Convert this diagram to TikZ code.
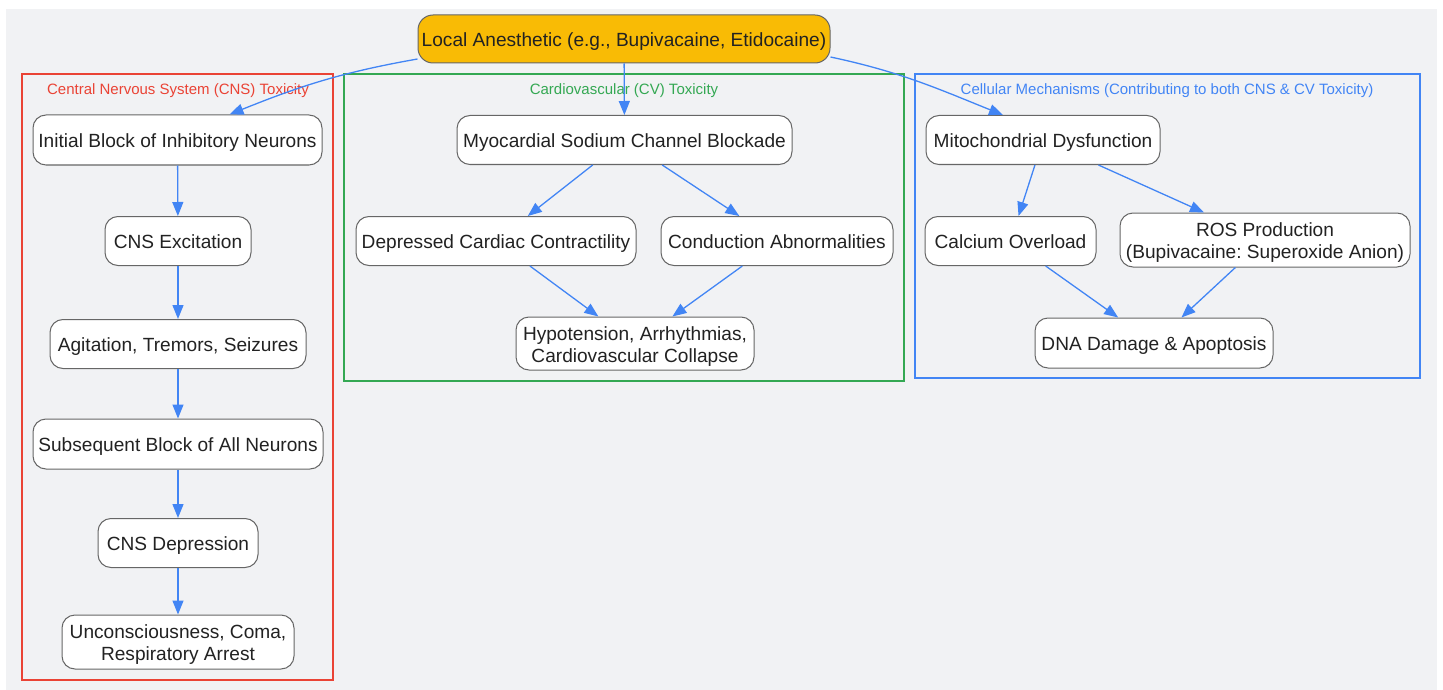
\documentclass[tikz,border=0pt]{standalone}
\usepackage{fontspec}
\setmainfont{Liberation Sans}
\usetikzlibrary{arrows.meta}
\frenchspacing
\definecolor{bggray}{HTML}{F1F2F4}
\definecolor{nodeborder}{HTML}{666666}
\definecolor{textdark}{HTML}{222222}
\definecolor{topfill}{HTML}{F9BB05}
\definecolor{gred}{HTML}{EA4335}
\definecolor{ggreen}{HTML}{34A853}
\definecolor{gblue}{HTML}{4285F4}
\newcommand{\twolines}[2]{\raisebox{-3.5pt}[\height][\depth]{\begin{tabular}{@{}c@{}}#1\\#2\end{tabular}}}
\tikzset{
  boxbase/.style={draw=nodeborder, fill=white, rounded corners=13pt, line width=1pt,
    inner sep=0pt, text=textdark,
    font=\fontsize{19.1}{22}\selectfont\frenchspacing},
  box/.style={boxbase, text height=18pt, text depth=3.4pt},
  boxtwo/.style={boxbase},
  cluster/.style={line width=1.2pt},
  clabel/.style={font=\fontsize{15}{17}\selectfont, inner sep=0pt, text height=12pt, text depth=1pt},
  link/.style={draw=gblue, line width=1.3pt, -{Triangle[length=14pt,width=11pt]}}
}
\begin{document}
\begin{tikzpicture}[x=1pt,y=-1pt]
\useasboundingbox (0,0) rectangle (1443,690);
\fill[white] (0,0) rectangle (1443,690);
\fill[bggray] (6,9) rectangle (1437,690);

% clusters
\draw[cluster, draw=gred] (22,74) rectangle (333,680);
\node[clabel, text=gred] (lcns) at (178,89) {Central Nervous System (CNS) Toxicity};
\draw[cluster, draw=ggreen] (344,74) rectangle (904,381);
\node[clabel, text=ggreen] (lcv) at (624,89) {Cardiovascular (CV) Toxicity};
\draw[cluster, draw=gblue] (915,74) rectangle (1420,378);
\node[clabel, text=gblue] (lcell) at (1167,89) {Cellular Mechanisms (Contributing to both CNS \& CV Toxicity)};

% top
\node[box, fill=topfill, rounded corners=15pt, minimum width=412pt, minimum height=48pt] (top) at (624,39) {Local Anesthetic (e.g., Bupivacaine, Etidocaine)};

% CNS
\node[box, minimum width=289pt, minimum height=50pt] (init) at (177.5,140) {Initial Block of Inhibitory Neurons};
\node[box, minimum width=146pt, minimum height=49pt] (exc) at (178,241) {CNS Excitation};
\node[box, minimum width=256pt, minimum height=49pt] (agit) at (178,344) {Agitation, Tremors, Seizures};
\node[box, minimum width=290pt, minimum height=50pt] (subs) at (178,444) {Subsequent Block of All Neurons};
\node[box, minimum width=160pt, minimum height=49pt] (dep) at (178,543) {CNS Depression};
\node[boxtwo, minimum width=232pt, minimum height=54pt] (unc) at (178,642) {\twolines{Unconsciousness, Coma,}{Respiratory Arrest}};

% CV
\node[box, minimum width=335pt, minimum height=49pt] (myo) at (624.5,140) {Myocardial Sodium Channel Blockade};
\node[box, minimum width=280pt, minimum height=49pt] (dcc) at (496,241) {Depressed Cardiac Contractility};
\node[box, minimum width=232pt, minimum height=49pt] (cab) at (777,241) {Conduction Abnormalities};
\node[boxtwo, minimum width=238pt, minimum height=53pt] (hyp) at (635,343.5) {\twolines{Hypotension, Arrhythmias,}{Cardiovascular Collapse}};

% Cellular
\node[box, minimum width=234pt, minimum height=49pt] (mito) at (1043,140) {Mitochondrial Dysfunction};
\node[box, minimum width=171pt, minimum height=49pt] (calc) at (1010.5,241) {Calcium Overload};
\node[boxtwo, minimum width=290pt, minimum height=54pt] (ros) at (1265,240) {\twolines{ROS Production}{(Bupivacaine: Superoxide Anion)}};
\node[box, minimum width=238pt, minimum height=50pt] (dna) at (1154,343) {DNA Damage \& Apoptosis};

% edges from top
\draw[link] ([yshift=-20pt]top.west) to[out=190, in=22] ([xshift=52pt]init.north);
\draw[link] (top) -- (myo);
\draw[link] ([yshift=-18pt]top.east) to[out=-12, in=158] ([xshift=-40pt]mito.north);

% CNS chain
\draw[link] (init) -- (exc);
\draw[link] (exc) -- (agit);
\draw[link] (agit) -- (subs);
\draw[link] (subs) -- (dep);
\draw[link] (dep) -- (unc);

% CV
\draw[link] (myo) -- (dcc);
\draw[link] (myo) -- (cab);
\draw[link] (dcc) -- (hyp);
\draw[link] (cab) -- (hyp);

% Cellular
\draw[link] (mito) -- (calc);
\draw[link] (mito) -- (ros);
\draw[link] (calc) -- (dna);
\draw[link] (ros) -- (dna);
\end{tikzpicture}
\end{document}
